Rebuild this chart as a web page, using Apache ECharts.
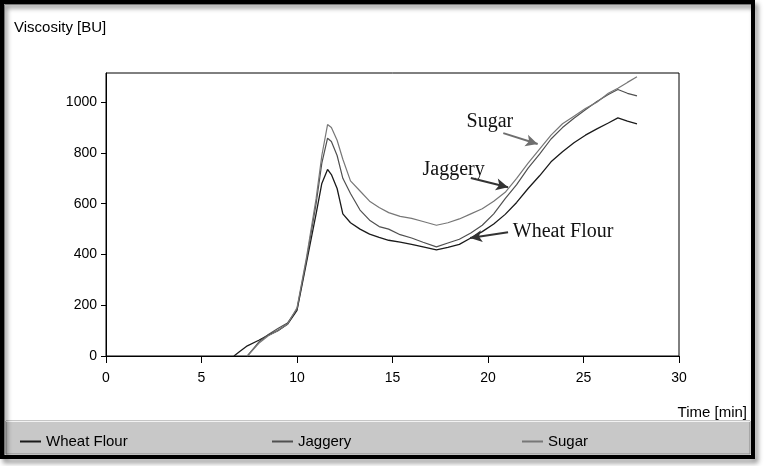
<!DOCTYPE html>
<html>
<head>
<meta charset="utf-8">
<script src="https://cdn.jsdelivr.net/npm/echarts@6/dist/echarts.min.js"></script>
<style>
html, body { margin: 0; padding: 0; background: #fff; }
#main { width: 767px; height: 466px; }
</style>
</head>
<body>
<div id="main"></div>
<script>
// time grid (min) shared by the three curves
var times = [6.7, 7.0, 7.4, 8.0, 8.5, 9.0, 9.5, 10.0, 10.5, 11.0, 11.3, 11.6, 11.8, 12.1, 12.4, 12.8, 13.3, 13.8, 14.3, 14.8,
	15.4, 16.0, 16.6, 17.3, 17.9, 18.5, 19.1, 19.7, 20.3, 20.9, 21.5, 22.1, 22.7, 23.3, 23.9, 24.5, 25.1, 25.7, 26.3, 26.8, 27.3, 27.8];

var wheatFlour = [0, 18, 40, 62, 82, 100, 125, 180, 370, 560, 680, 735, 715, 660, 560, 525, 500, 480, 467, 456,
	449, 440, 430, 418, 428, 440, 465, 490, 520, 558, 605, 660, 710, 765, 805, 840, 870, 895, 918, 938, 925, 915];
var jaggery = [null, null, 0, 55, 85, 108, 130, 185, 380, 600, 760, 858, 845, 790, 700, 640, 575, 535, 510, 500,
	478, 465, 448, 430, 445, 460, 485, 515, 560, 620, 675, 740, 795, 855, 900, 937, 970, 1003, 1030, 1050, 1035, 1025];
var sugar = [null, null, 0, 50, 80, 100, 125, 190, 390, 620, 790, 912, 900, 850, 775, 690, 650, 610, 585, 565,
	550, 542, 530, 515, 525, 540, 560, 580, 610, 645, 700, 760, 815, 870, 915, 945, 975, 1000, 1035, 1055, 1078, 1100];

var xTicks = [0, 5, 10, 15, 20, 25, 30];
var yTicks = [0, 200, 400, 600, 800, 1000];

// annotations: [label, text pos, arrow start, arrow end] in (min, BU)
var sugarNote = ['Sugar', [20.1, 921], [20.8, 878], [22.6, 835]];
var jaggeryNote = ['Jaggery', [18.2, 732], [19.1, 701], [21.05, 665]];
var wheatNote = ['Wheat Flour', [21.3, 488], [21.05, 488], [19.06, 465]];

function pairs(vals) {
	return times.map(function (t, i) { return [t, vals[i]]; });
}

var font = 'Liberation Sans, Arial, sans-serif';

function arrowLine(note, color) {
	return {
		silent: true,
		symbol: ['none', 'arrow'],
		symbolSize: [9, 12],
		label: { show: false },
		lineStyle: { color: color, width: 2, type: 'solid' },
		animation: false,
		data: [[{ coord: note[2] }, { coord: note[3] }]]
	};
}

var myChart = echarts.init(document.getElementById('main'));

var option = {
	backgroundColor: '#fff',
	animation: false,
	title: [
		{ text: 'Viscosity [BU]', left: 9, top: 15, textStyle: { fontFamily: font, fontSize: 15, fontWeight: 'normal', color: '#000' } },
		{ text: 'Time [min]', right: 15, top: 400, textStyle: { fontFamily: font, fontSize: 15, fontWeight: 'normal', color: '#000' } }
	],
	legend: [
		{ data: ['Wheat Flour'], left: 15, top: 429, icon: 'rect', itemWidth: 21, itemHeight: 2, textStyle: { fontFamily: font, fontSize: 15, color: '#000' } },
		{ data: ['Jaggery'], left: 267, top: 429, icon: 'rect', itemWidth: 21, itemHeight: 2, textStyle: { fontFamily: font, fontSize: 15, color: '#000' } },
		{ data: ['Sugar'], left: 517, top: 429, icon: 'rect', itemWidth: 21, itemHeight: 2, textStyle: { fontFamily: font, fontSize: 15, color: '#000' } }
	],
	grid: {
		left: 106, right: 88, top: 73, bottom: 110,
		show: true, borderColor: '#000', borderWidth: 1, backgroundColor: 'transparent'
	},
	xAxis: {
		type: 'value', min: 0, max: 30, interval: 5,
		axisLine: { lineStyle: { color: '#000', width: 1 } },
		axisTick: { length: 7, lineStyle: { color: '#000' } },
		axisLabel: { margin: 15, fontFamily: font, fontSize: 14, color: '#000', customValues: xTicks },
		splitLine: { show: false }
	},
	yAxis: {
		type: 'value', min: 0, max: 1115,
		axisLine: { show: true, lineStyle: { color: '#000', width: 1 } },
		axisTick: { show: true, length: 5, lineStyle: { color: '#000' }, customValues: yTicks },
		axisLabel: { margin: 9, fontFamily: font, fontSize: 14, color: '#000', customValues: yTicks, formatter: function (v) { return String(v); } },
		splitLine: { show: false }
	},
	series: [
		{ name: 'Wheat Flour', type: 'line', symbol: 'none', data: pairs(wheatFlour), color: '#1a1a1a', lineStyle: { width: 1.3 }, markLine: arrowLine(wheatNote, '#333') },
		{ name: 'Jaggery', type: 'line', symbol: 'none', data: pairs(jaggery), color: '#505050', lineStyle: { width: 1.2 }, markLine: arrowLine(jaggeryNote, '#333') },
		{ name: 'Sugar', type: 'line', symbol: 'none', data: pairs(sugar), color: '#777', lineStyle: { width: 1.2 }, markLine: arrowLine(sugarNote, '#6e6e6e') }
	]
};

myChart.setOption(option);

// frame, legend bar and annotation text
function noteText(note, align) {
	var p = myChart.convertToPixel({ gridIndex: 0 }, note[1]);
	return {
		type: 'text', x: p[0], y: p[1],
		style: { text: note[0], fill: '#111', font: '20px "Liberation Serif", "Times New Roman", serif', textAlign: align, textVerticalAlign: 'middle' }
	};
}

myChart.setOption({
	graphic: [
		{ type: 'rect', shape: { x: 6, y: 421, width: 744, height: 33 }, style: { fill: '#c8c8c8', stroke: '#8c8c8c', lineWidth: 1 }, z: -1 },
		{ type: 'line', shape: { x1: 6, y1: 421.5, x2: 750, y2: 421.5 }, style: { stroke: '#f2f2f2', lineWidth: 1 } },
		{ type: 'rect', shape: { x: 4.5, y: 4.5, width: 747, height: 451 }, style: { fill: null, stroke: '#9a9a9a', lineWidth: 1 } },
		{ type: 'rect', shape: { x: 2, y: 2, width: 751, height: 455 }, style: { fill: null, stroke: '#000', lineWidth: 4, shadowBlur: 5, shadowOffsetX: 3, shadowOffsetY: 4, shadowColor: 'rgba(0,0,0,0.45)' } },
		noteText(sugarNote, 'center'),
		noteText(jaggeryNote, 'center'),
		noteText(wheatNote, 'left')
	]
});
</script>
</body>
</html>
